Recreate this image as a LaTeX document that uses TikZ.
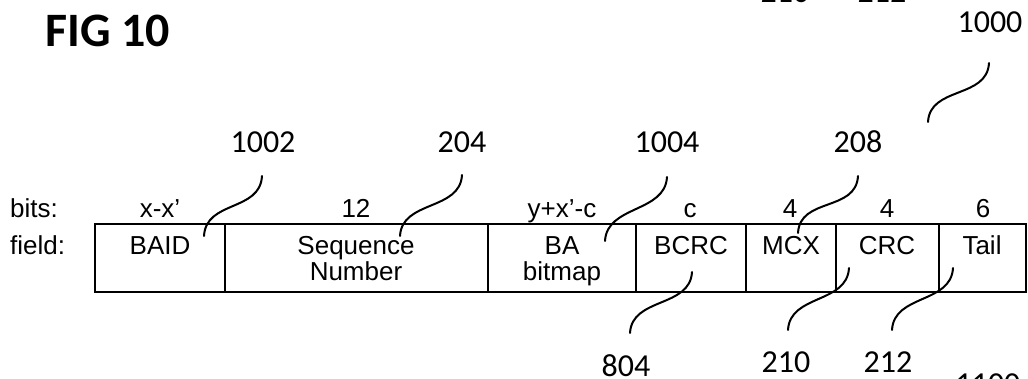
\documentclass[tikz,border=0pt]{standalone}
\usepackage{fontspec}
\setmainfont{Liberation Sans}
\newfontfamily\calib{Carlito}
\begin{document}
\begin{tikzpicture}[x=1pt,y=-1pt,
  cell/.style={draw, line width=1.1pt, inner sep=0pt, minimum height=68pt},
  ftxt/.style={font=\fontsize{26}{28}\selectfont, inner sep=0pt, anchor=base},
  num/.style={font=\calib\fontsize{32}{34}\selectfont, inner sep=0pt, anchor=base},
  leader/.style={line width=2pt, line cap=round}]
\useasboundingbox (0,0) rectangle (1028,379);
\clip (0,0) rectangle (1028,379);

% title
\node[font=\calib\bfseries\fontsize{48}{50}\selectfont, inner sep=0pt, anchor=base west] (fig) at (45,47) {FIG 10};

% row labels
\node[ftxt, anchor=base west] (bits) at (10,218) {bits:};
\node[ftxt, anchor=base west] (field) at (10,255) {field:};

% cells
\node[cell, minimum width=130pt] (c1) at (160,258) {};
\node[cell, minimum width=263pt] (c2) at (356.5,258) {};
\node[cell, minimum width=148pt] (c3) at (562,258) {};
\node[cell, minimum width=110pt] (c4) at (691,258) {};
\node[cell, minimum width=90pt]  (c5) at (791,258) {};
\node[cell, minimum width=103pt] (c6) at (887.5,258) {};
\node[cell, minimum width=87pt]  (c7) at (982.5,258) {};

% bit counts
\node[ftxt] (b1) at (160,218) {x-x’};
\node[ftxt] (b2) at (356,218) {12};
\node[ftxt] (b3) at (562,218) {y+x’-c};
\node[ftxt] (b4) at (690,218) {c};
\node[ftxt] (b5) at (790,218) {4};
\node[ftxt] (b6) at (887,218) {4};
\node[ftxt] (b7) at (983,218) {6};

% field names
\node[ftxt] (f1) at (160,255) {BAID};
\node[ftxt] (f2a) at (356,255) {Sequence};
\node[ftxt] (f2b) at (356,281) {Number};
\node[ftxt] (f3a) at (562,255) {BA};
\node[ftxt] (f3b) at (562,281) {bitmap};
\node[ftxt] (f4) at (691,255) {BCRC};
\node[ftxt] (f5) at (791,255) {MCX};
\node[ftxt] (f6) at (887,255) {CRC};
\node[ftxt] (f7) at (982,255) {Tail};

% reference numerals
\node[num] (n1000) at (990,33) {1000};
\node[num] (n1002) at (263,153) {1002};
\node[num] (n204) at (462,153) {204};
\node[num] (n1004) at (667,153) {1004};
\node[num] (n208) at (858,153) {208};
\node[num] (n804) at (626,376) {804};
\node[num] (n210) at (786,372) {210};
\node[num] (n212) at (888,372) {212};
\node[num] (n1100) at (988,394) {1100};
\node[num] (t210) at (785,3) {210};
\node[num] (t212) at (882,3) {212};

% leader end points
\coordinate (a1000) at (989,63);   \coordinate (z1000) at (928,122);
\coordinate (a1002) at (262,176);  \coordinate (z1002) at (204,236);
\coordinate (a204) at (462,175);   \coordinate (z204) at (400,236);
\coordinate (a1004) at (667,177);  \coordinate (z1004) at (605,241);
\coordinate (a208) at (858,176);   \coordinate (z208) at (798,233);
\coordinate (a804) at (692,272);   \coordinate (z804) at (630,333);
\coordinate (a210) at (849,268);   \coordinate (z210) at (788,330);
\coordinate (a212) at (953,268);   \coordinate (z212) at (892,330);

\foreach \k in {1000,1002,204,1004,208,804,210,212}{
  \draw[leader] (a\k) .. controls +(-2,36) and +(2,-36) .. (z\k);
}
\end{tikzpicture}
\end{document}
